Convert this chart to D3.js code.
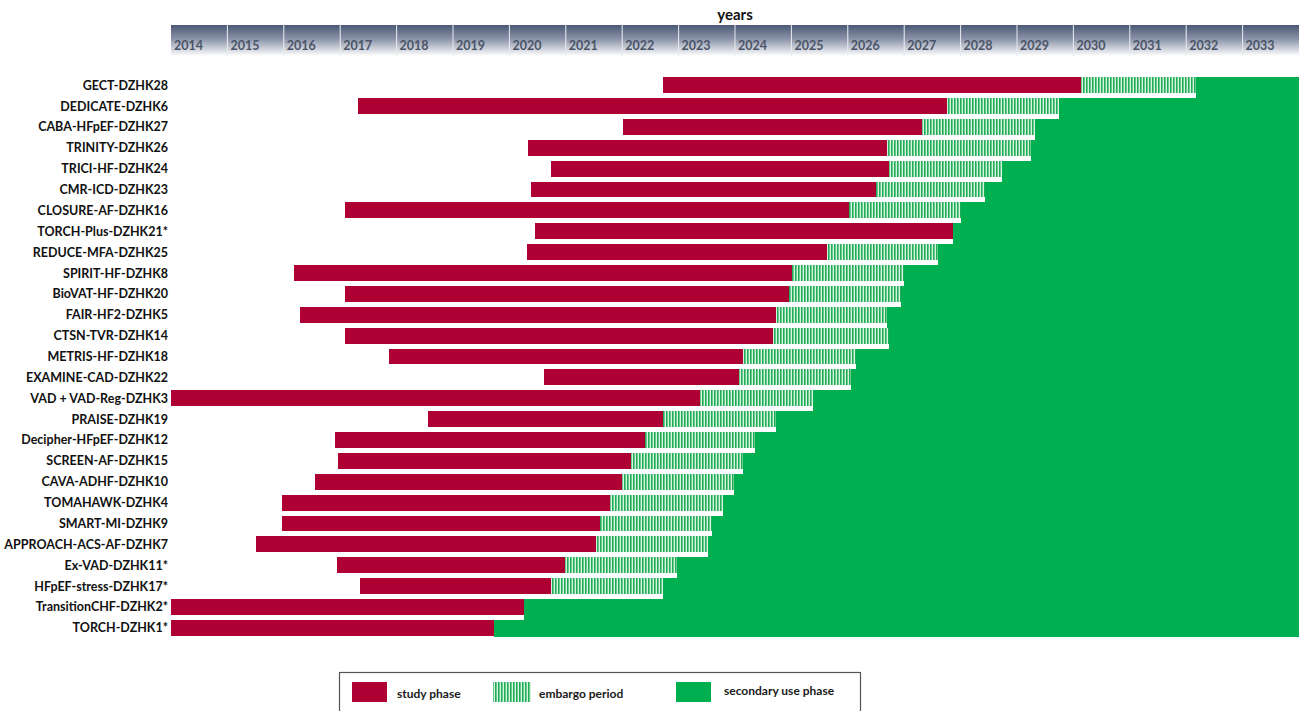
<!DOCTYPE html>
<html>
<head>
<meta charset="utf-8">
<script src="https://cdn.jsdelivr.net/npm/d3@7"></script>
<style>
  body { margin: 0; background: #fff; }
  svg { display: block; font-family: Lato, "Open Sans", sans-serif; }
</style>
</head>
<body>
<svg id="chart" width="1299" height="711"></svg>
<script>
// study names, top to bottom
var studies = ["GECT-DZHK28", "DEDICATE-DZHK6", "CABA-HFpEF-DZHK27", "TRINITY-DZHK26",
  "TRICI-HF-DZHK24", "CMR-ICD-DZHK23", "CLOSURE-AF-DZHK16", "TORCH-Plus-DZHK21*",
  "REDUCE-MFA-DZHK25", "SPIRIT-HF-DZHK8", "BioVAT-HF-DZHK20", "FAIR-HF2-DZHK5",
  "CTSN-TVR-DZHK14", "METRIS-HF-DZHK18", "EXAMINE-CAD-DZHK22", "VAD + VAD-Reg-DZHK3",
  "PRAISE-DZHK19", "Decipher-HFpEF-DZHK12", "SCREEN-AF-DZHK15", "CAVA-ADHF-DZHK10",
  "TOMAHAWK-DZHK4", "SMART-MI-DZHK9", "APPROACH-ACS-AF-DZHK7", "Ex-VAD-DZHK11*",
  "HFpEF-stress-DZHK17*", "TransitionCHF-DZHK2*", "TORCH-DZHK1*"];
// study phase start (decimal year)
var studyStart = [2022.72, 2017.32, 2022.01, 2020.33, 2020.74, 2020.38, 2017.09, 2020.45,
  2020.31, 2016.18, 2017.09, 2016.29, 2017.09, 2017.87, 2020.61, 2014.0,
  2018.56, 2016.91, 2016.96, 2016.55, 2015.97, 2015.97, 2015.51, 2016.94,
  2017.35, 2014.0, 2014.0];
// study phase end = embargo start
var embargoStart = [2030.13, 2027.76, 2027.32, 2026.70, 2026.73, 2026.50, 2026.02, 2027.87,
  2025.63, 2025.01, 2024.96, 2024.73, 2024.67, 2024.14, 2024.07, 2023.38,
  2022.72, 2022.40, 2022.16, 2022.00, 2021.78, 2021.61, 2021.54, 2020.99,
  2020.74, 2020.26, 2019.73];
// embargo end = secondary use start
var embargoEnd = [2032.17, 2029.74, 2029.32, 2029.25, 2028.73, 2028.43, 2028.01, 2027.87,
  2027.60, 2027.00, 2026.94, 2026.70, 2026.73, 2026.15, 2026.06, 2025.38,
  2024.73, 2024.35, 2024.14, 2023.98, 2023.79, 2023.59, 2023.52, 2022.97,
  2022.72, 2020.26, 2019.73];
var years = d3.range(2014, 2034);
var legendItems = ["study phase", "embargo period", "secondary use phase"];

var red = "#ae0032", green = "#00b050";

var svg = d3.select("#chart");
var x = d3.scaleLinear().domain([2014, 2034]).range([171, 1299]);
var y = d3.scaleBand().domain(studies).range([76, 637]).paddingInner(0.24).paddingOuter(0.06);

var defs = svg.append("defs");
var grad = defs.append("linearGradient").attr("id", "hdr").attr("x1", 0).attr("y1", 0).attr("x2", 0).attr("y2", 1);
grad.append("stop").attr("offset", "0%").attr("stop-color", "#4c5875");
grad.append("stop").attr("offset", "45%").attr("stop-color", "#8a93a8");
grad.append("stop").attr("offset", "100%").attr("stop-color", "#ffffff");

var pat = defs.append("pattern").attr("id", "embargo").attr("patternUnits", "userSpaceOnUse")
  .attr("width", 3).attr("height", 10);
pat.append("rect").attr("width", 3).attr("height", 10).attr("fill", "#d9f2e2");
pat.append("rect").attr("width", 1.6).attr("height", 10).attr("fill", "#1fae55");

// header
svg.append("text").attr("x", 735).attr("y", 20).attr("text-anchor", "middle")
  .attr("font-size", 15).attr("font-weight", "bold").attr("fill", "#111").text("years");

var hdr = svg.append("g");
hdr.selectAll("rect").data(years).join("rect")
  .attr("x", function(d){ return x(d); })
  .attr("y", 25)
  .attr("width", function(d){ return x(d + 1) - x(d); })
  .attr("height", 31)
  .attr("fill", "url(#hdr)");
hdr.selectAll("line").data(years.slice(1)).join("line")
  .attr("x1", function(d){ return x(d); }).attr("x2", function(d){ return x(d); })
  .attr("y1", 25).attr("y2", 56)
  .attr("stroke", "#e8eaf0").attr("stroke-width", 1);
hdr.selectAll("text").data(years).join("text")
  .attr("x", function(d){ return x(d) + 3; })
  .attr("y", 50)
  .attr("font-size", 12.5).attr("font-weight", "bold").attr("fill", "#4a5468")
  .text(function(d){ return d; });

// rows
var step = y.step();
var rows = svg.append("g").attr("shape-rendering", "crispEdges");
studies.forEach(function(s, i){
  var top = y(s), h = y.bandwidth();
  var gh = Math.min(step + 1, 637 - top);
  rows.append("rect").attr("x", x(embargoEnd[i])).attr("y", top)
    .attr("width", x(2034) - x(embargoEnd[i])).attr("height", gh).attr("fill", green);
  if (embargoEnd[i] > embargoStart[i]) {
    rows.append("rect").attr("x", x(embargoStart[i])).attr("y", top)
      .attr("width", x(embargoEnd[i]) - x(embargoStart[i])).attr("height", h).attr("fill", "url(#embargo)");
  }
  rows.append("rect").attr("x", x(studyStart[i])).attr("y", top)
    .attr("width", x(embargoStart[i]) - x(studyStart[i])).attr("height", h).attr("fill", red);
});

// labels
svg.append("g").selectAll("text").data(studies).join("text")
  .attr("x", 168)
  .attr("y", function(d){ return y(d) + y.bandwidth() / 2 + 4.5; })
  .attr("text-anchor", "end")
  .attr("font-size", 12.5).attr("font-weight", "bold").attr("fill", "#111")
  .text(function(d){ return d; });

// legend
var lg = svg.append("g");
lg.append("rect").attr("x", 339.5).attr("y", 672.5).attr("width", 521).attr("height", 45)
  .attr("fill", "none").attr("stroke", "#555").attr("stroke-width", 1.2);
var swX = [352, 493, 676], txX = [397, 539, 724];
var swFill = [red, "url(#embargo)", green];
legendItems.forEach(function(t, i){
  lg.append("rect").attr("x", swX[i]).attr("y", 682).attr("width", i == 1 ? 38 : 35).attr("height", 20)
    .attr("fill", swFill[i]);
  lg.append("text").attr("x", txX[i]).attr("y", i == 2 ? 695 : 698)
    .attr("font-size", 12).attr("font-weight", "bold").attr("fill", "#1a1a1a").text(t);
});
</script>
</body>
</html>
